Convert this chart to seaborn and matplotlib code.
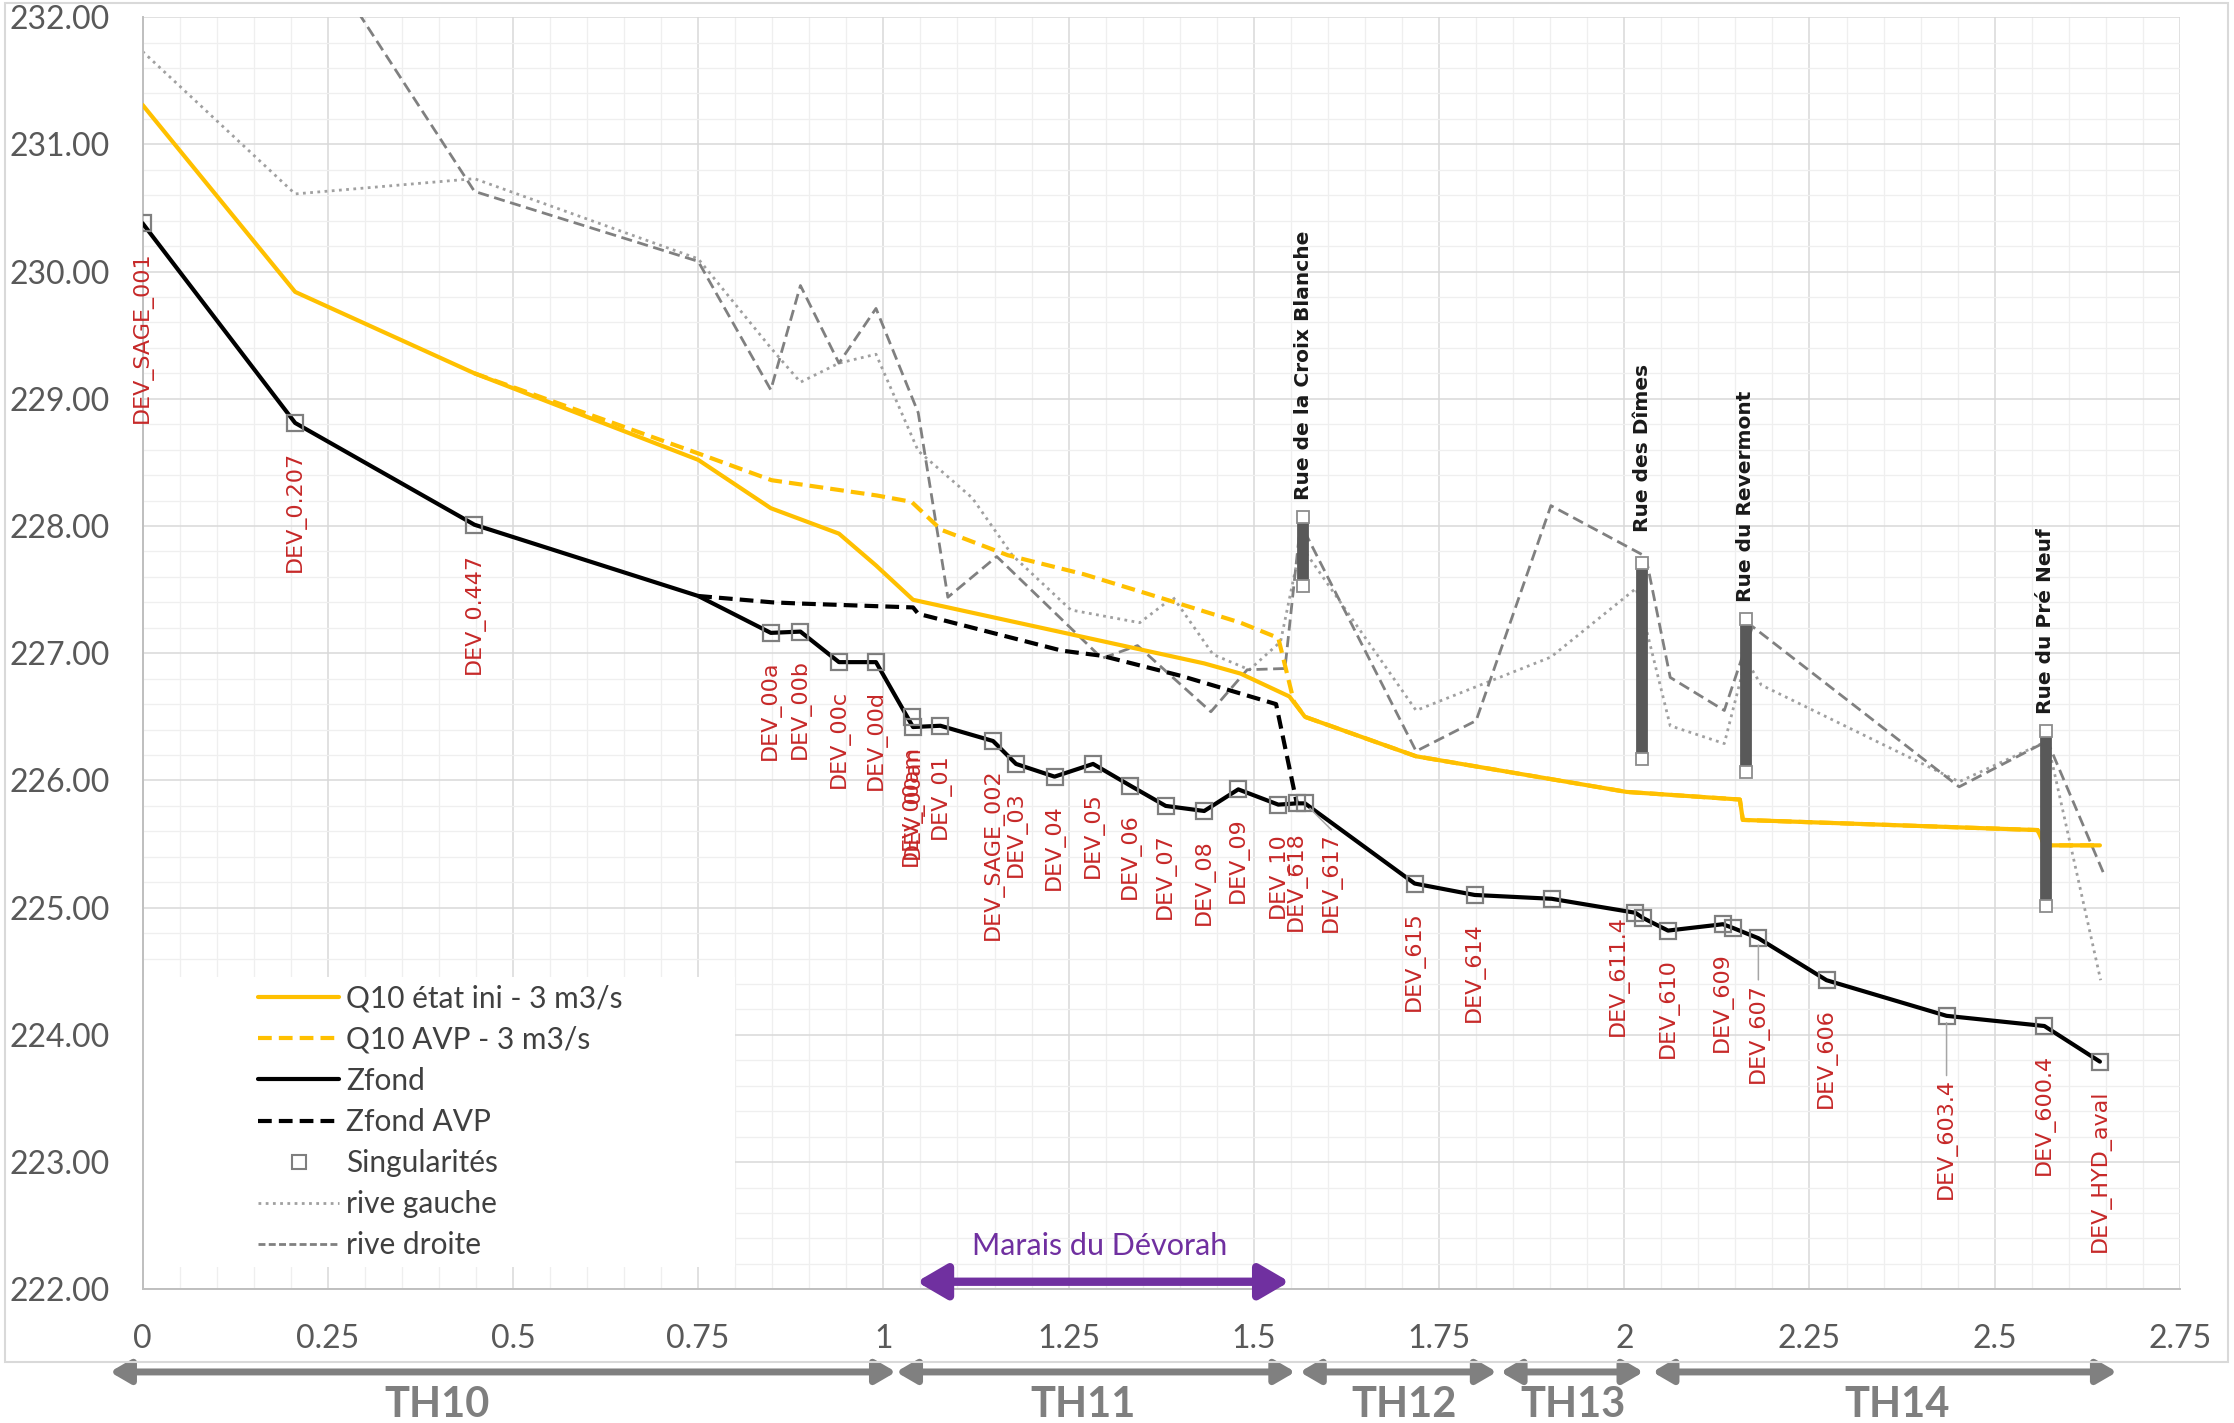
import numpy as np
import pandas as pd
import matplotlib
matplotlib.use("Agg")
import matplotlib.pyplot as plt
import seaborn as sns
from matplotlib.lines import Line2D
from matplotlib.patches import Rectangle
from matplotlib.ticker import MultipleLocator, FormatStrFormatter, FuncFormatter

# ---------------- data ----------------
# Q10 état initial
qi_x = [0, 0.206, 0.448, 0.75, 0.848, 0.94, 0.99, 1.04, 1.433, 1.482, 1.548, 1.569,
        1.719, 2.003, 2.156, 2.16, 2.558, 2.567, 2.642]
qi_y = [231.31, 229.84, 229.20, 228.52, 228.14, 227.94, 227.69, 227.42, 226.92, 226.84,
        226.66, 226.50, 226.19, 225.91, 225.85, 225.69, 225.61, 225.49, 225.49]
# Q10 AVP
qa_x = [0.448, 0.755, 0.849, 0.991, 1.038, 1.078, 1.168, 1.271, 1.355, 1.482, 1.533,
        1.554, 1.569, 1.719, 2.003, 2.156, 2.16, 2.558, 2.567, 2.642]
qa_y = [229.20, 228.56, 228.36, 228.24, 228.19, 227.97, 227.77, 227.62, 227.47, 227.24,
        227.12, 226.62, 226.50, 226.19, 225.91, 225.85, 225.69, 225.61, 225.49, 225.49]
# Zfond
zf_x = [0, 0.206, 0.448, 0.75, 0.848, 0.888, 0.94, 0.99, 1.04, 1.077, 1.148, 1.179, 1.231,
        1.283, 1.333, 1.381, 1.433, 1.479, 1.533, 1.558, 1.569, 1.717, 1.798, 1.902, 2.015,
        2.025, 2.059, 2.133, 2.147, 2.181, 2.273, 2.435, 2.567, 2.642]
zf_y = [230.38, 228.81, 228.01, 227.45, 227.16, 227.17, 226.93, 226.93, 226.42, 226.43,
        226.31, 226.13, 226.03, 226.13, 225.96, 225.80, 225.76, 225.93, 225.81, 225.82,
        225.82, 225.19, 225.10, 225.07, 224.96, 224.92, 224.82, 224.87, 224.84, 224.76,
        224.43, 224.15, 224.07, 223.79]
# Zfond AVP
zfa_x = [0.75, 0.85, 0.89, 0.99, 1.04, 1.047, 1.241, 1.295, 1.403, 1.53, 1.558]
zfa_y = [227.45, 227.40, 227.39, 227.37, 227.36, 227.31, 227.02, 226.98, 226.82, 226.60, 225.82]
# rive gauche
rg_x = [0, 0.206, 0.448, 0.75, 0.848, 0.888, 0.94, 0.99, 1.047, 1.12, 1.174, 1.253, 1.346,
        1.391, 1.445, 1.494, 1.536, 1.563, 1.719, 1.901, 2.016, 2.062, 2.135, 2.164, 2.185,
        2.452, 2.571, 2.643]
rg_y = [231.73, 230.61, 230.73, 230.10, 229.40, 229.13, 229.28, 229.35, 228.59, 228.22,
        227.77, 227.34, 227.24, 227.44, 226.99, 226.87, 227.09, 227.85, 226.55, 226.97,
        227.51, 226.43, 226.29, 226.95, 226.75, 225.99, 226.31, 224.43]
# rive droite
rd_x = [0, 0.206, 0.448, 0.75, 0.848, 0.888, 0.94, 0.99, 1.047, 1.087, 1.153, 1.295, 1.343,
        1.442, 1.491, 1.542, 1.563, 1.719, 1.80, 1.901, 2.029, 2.062, 2.135, 2.173, 2.452,
        2.571, 2.647]
rd_y = [233.6, 232.8, 230.63, 230.08, 229.07, 229.89, 229.28, 229.71, 228.89, 227.44,
        227.76, 226.96, 227.06, 226.54, 226.87, 226.88, 228.02, 226.23, 226.47, 228.16,
        227.76, 226.81, 226.55, 227.21, 225.95, 226.31, 225.27]
# singularités
sing_x = [0, 0.206, 0.448, 0.848, 0.888, 0.94, 0.99, 1.038, 1.04, 1.077, 1.148, 1.179, 1.231,
          1.283, 1.333, 1.381, 1.433, 1.479, 1.533, 1.558, 1.569, 1.717, 1.798, 1.902, 2.015,
          2.025, 2.059, 2.133, 2.147, 2.181, 2.273, 2.435, 2.567, 2.642]
sing_y = [230.38, 228.81, 228.01, 227.16, 227.17, 226.93, 226.93, 226.50, 226.42, 226.43,
          226.31, 226.13, 226.03, 226.13, 225.96, 225.80, 225.76, 225.93, 225.81, 225.82,
          225.82, 225.19, 225.10, 225.07, 224.96, 224.92, 224.82, 224.87, 224.84, 224.76,
          224.43, 224.15, 224.07, 223.79]
sing_labels = ["DEV_SAGE_001", "DEV_0.207", "DEV_0.447", "DEV_00a", "DEV_00b", "DEV_00c",
               "DEV_00d", "DEV_00am", "DEV_00an", "DEV_01", "DEV_SAGE_002", "DEV_03", "DEV_04",
               "DEV_05", "DEV_06", "DEV_07", "DEV_08", "DEV_09", "DEV_10", "DEV_618", "DEV_617",
               "DEV_615", "DEV_614", "", "DEV_611.4", "", "DEV_610", "DEV_609", "", "DEV_607",
               "DEV_606", "DEV_603.4", "DEV_600.4", "DEV_HYD_aval"]
# ponts
bridge_names = ["Rue de la Croix Blanche", "Rue des Dîmes", "Rue du Revermont", "Rue du Pré Neuf"]
bridge_x = [1.567, 2.024, 2.164, 2.569]
bridge_top = [228.07, 227.71, 227.27, 226.39]
bridge_bot = [227.53, 226.17, 226.07, 225.01]
# tronçons
th_labels = ["TH10", "TH11", "TH12", "TH13", "TH14"]
th_start = [-0.044, 1.017, 1.562, 1.833, 2.038]
th_end = [1.017, 1.556, 1.828, 2.026, 2.665]
th_text_x = [0.398, 1.270, 1.703, 1.931, 2.368]
marais_label = "Marais du Dévorah"
marais_start, marais_end = 1.045, 1.548

# ---------------- styling ----------------
sns.set_theme(style="white")
plt.rcParams["font.family"] = ["Lato", "DejaVu Sans"]

ORANGE = "#ffc000"
GRAY_D = "#808080"
GRAY_L = "#a0a0a0"
RED = "#c62828"
PURPLE = "#7030a0"

fig = plt.figure(figsize=(22.34, 14.23), dpi=100)
ax = fig.add_axes([0.0638, 0.0939, 0.9120, 0.8941])
ax.set_axisbelow(True)

ax.set_xlim(0, 2.75)
ax.set_ylim(222, 232)
ax.xaxis.set_major_locator(MultipleLocator(0.25))
ax.xaxis.set_minor_locator(MultipleLocator(0.05))
ax.yaxis.set_major_locator(MultipleLocator(1))
ax.yaxis.set_minor_locator(MultipleLocator(0.2))
ax.xaxis.set_major_formatter(FuncFormatter(lambda v, p: f"{v:g}"))
ax.yaxis.set_major_formatter(FormatStrFormatter("%.2f"))
ax.grid(which="major", color="#d9d9d9", lw=1.1)
ax.grid(which="minor", color="#efefef", lw=0.9)
ax.tick_params(which="major", length=8.6, width=1.1, color="#bfbfbf",
               labelsize=23, labelcolor="#595959")
ax.tick_params(axis="x", pad=16)
ax.tick_params(axis="y", pad=15)
ax.tick_params(which="minor", length=0)
for s in ["top", "right"]:
    ax.spines[s].set_visible(False)
for s in ["left", "bottom"]:
    ax.spines[s].set_color("#bfbfbf")
    ax.spines[s].set_linewidth(1.4)

# white legend background
ax.add_patch(Rectangle((0, 0.0176), 0.291, 0.228, transform=ax.transAxes,
                       facecolor="white", edgecolor="none", zorder=1.5))

# ---------------- series ----------------
dash_o = (0, (3.3, 1.7))
sns.lineplot(x=rg_x, y=rg_y, ax=ax, color=GRAY_L, lw=2.0, linestyle=(0, (1, 1.6)),
             sort=False, estimator=None, zorder=2)
sns.lineplot(x=rd_x, y=rd_y, ax=ax, color=GRAY_D, lw=2.0, linestyle=(0, (4, 2)),
             sort=False, estimator=None, zorder=2)
sns.lineplot(x=qi_x, y=qi_y, ax=ax, color=ORANGE, lw=3.0, sort=False, estimator=None, zorder=3)
sns.lineplot(x=qa_x, y=qa_y, ax=ax, color=ORANGE, lw=3.0, linestyle=dash_o,
             sort=False, estimator=None, zorder=3)
sns.lineplot(x=zfa_x, y=zfa_y, ax=ax, color="black", lw=3.0, linestyle=dash_o,
             sort=False, estimator=None, zorder=3)
sns.lineplot(x=zf_x, y=zf_y, ax=ax, color="black", lw=3.0, sort=False, estimator=None, zorder=3)

# bridges
ax.vlines(bridge_x, bridge_bot, bridge_top, color="#595959", lw=8.5, zorder=4)
ax.plot(bridge_x, bridge_top, ls="none", marker="s", ms=9, mfc="white", mec="#8c8c8c",
        mew=1.3, zorder=5)
ax.plot(bridge_x, bridge_bot, ls="none", marker="s", ms=8, mfc="white", mec="#8c8c8c",
        mew=1.3, zorder=5)
bridge_off = {"Rue des Dîmes": 22}
for nm, bx, bt in zip(bridge_names, bridge_x, bridge_top):
    off = bridge_off.get(nm, 12)
    ax.annotate(nm, (bx, bt), xytext=(0, off), textcoords="offset points",
                rotation=90, ha="center", va="bottom", fontsize=14.5,
                fontweight="bold", color="#1a1a1a", family=["DejaVu Sans"], zorder=6)

# singularities
ax.plot(sing_x, sing_y, ls="none", marker="s", ms=11, mfc="none", mec="#7f7f7f",
        mew=1.6, zorder=5)

lbl_off = {"DEV_617": (19, -21), "DEV_611.4": (-12, -2), "DEV_00an": (0, -13),
           "DEV_607": (0, -32), "DEV_603.4": (0, -45)}
leader = {"DEV_617", "DEV_607", "DEV_603.4"}
for sx, sy, lab in zip(sing_x, sing_y, sing_labels):
    if not lab:
        continue
    dx, dy = lbl_off.get(lab, (0, -20))
    ax.annotate(lab, (sx, sy), xytext=(dx, dy), textcoords="offset points",
                rotation=90, ha="center", va="top", fontsize=16, color=RED,
                family=["DejaVu Sans"], zorder=6)
    if lab in leader:
        ax.annotate("", (sx, sy), xytext=(dx, dy + 2), textcoords="offset points",
                    arrowprops=dict(arrowstyle="-", color="#a6a6a6", lw=1.1,
                                    shrinkA=0, shrinkB=5), zorder=5)

# Marais du Dévorah
ax.annotate("", xy=(marais_end, 222.06), xytext=(marais_start, 222.06),
            arrowprops=dict(arrowstyle="<|-|>,head_length=0.6,head_width=0.35",
                            mutation_scale=30, color=PURPLE, lw=6, shrinkA=0, shrinkB=0),
            zorder=6)
ax.text((marais_start + marais_end) / 2 - 0.005, 222.34, marais_label, ha="center",
        va="center", fontsize=22, color=PURPLE, zorder=6)

# tronçons
for lab, a, b, tx in zip(th_labels, th_start, th_end, th_text_x):
    ax.annotate("", xy=(b, -0.0649), xytext=(a, -0.0649),
                xycoords=("data", "axes fraction"), textcoords=("data", "axes fraction"),
                arrowprops=dict(arrowstyle="<|-|>,head_length=0.6,head_width=0.35",
                                mutation_scale=20, color=GRAY_D, lw=5, shrinkA=0, shrinkB=0),
                annotation_clip=False)
    ax.text(tx, -0.0905, lab, transform=ax.get_xaxis_transform(), ha="center", va="center",
            fontsize=30, fontweight="bold", color="#7f7f7f", clip_on=False)

# legend
handles = [
    Line2D([], [], color=ORANGE, lw=3.0),
    Line2D([], [], color=ORANGE, lw=3.0, linestyle=dash_o),
    Line2D([], [], color="black", lw=3.0),
    Line2D([], [], color="black", lw=3.0, linestyle=dash_o),
    Line2D([], [], ls="none", marker="s", ms=10, mfc="none", mec="#7f7f7f", mew=1.5),
    Line2D([], [], color=GRAY_L, lw=2.0, linestyle=(0, (1, 1.6))),
    Line2D([], [], color=GRAY_D, lw=2.0, linestyle=(0, (2.5, 1.2))),
]
labels = ["Q10 état ini - 3 m3/s", "Q10 AVP - 3 m3/s", "Zfond", "Zfond AVP",
          "Singularités", "rive gauche", "rive droite"]
leg = ax.legend(handles, labels, loc="upper left", bbox_to_anchor=(0.0567, 0.2395),
                frameon=False, fontsize=21.5, handlelength=2.72, handletextpad=0.24,
                labelspacing=0.44, borderpad=0, borderaxespad=0, labelcolor="#404040")
leg.set_zorder(7)

# chart frame
fig.add_artist(Rectangle((5 / 2234, 1 - 1362 / 1423), 2223 / 2234, 1359 / 1423,
                         transform=fig.transFigure, fill=False, ec="#d9d9d9", lw=1.5))

fig.savefig("out.png", dpi=100, facecolor="white")
